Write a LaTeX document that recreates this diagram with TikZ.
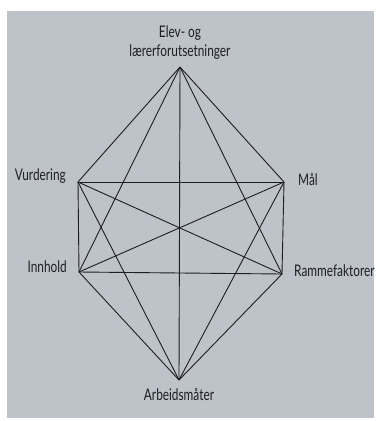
\documentclass[tikz,border=0pt]{standalone}
\usepackage{fontspec}
\setmainfont{Lato}
\definecolor{bg}{RGB}{189,195,201}
\definecolor{ink}{RGB}{30,30,32}
\newcommand\cond[1]{\scalebox{0.74}[1]{#1}}
\begin{document}
\begin{tikzpicture}[x=1pt,y=-1pt,
  lbl/.style={inner sep=0pt,text=ink,font=\fontsize{16}{19.5}\selectfont},
  edge/.style={draw=ink,line width=0.9pt}]
\useasboundingbox (0,0) rectangle (377,421);
\fill[white] (0,0) rectangle (377,421);
\fill[bg] (7,11) rectangle (374,418);
% vertices
\coordinate (T) at (180,67);
\coordinate (V) at (78,182);
\coordinate (M) at (284,182);
\coordinate (I) at (79,272);
\coordinate (R) at (282,274);
\coordinate (B) at (179,380);
% edges
\foreach \a/\b in {T/V,T/M,T/I,T/R,T/B,V/M,V/I,V/R,V/B,M/I,M/R,M/B,I/R,I/B,R/B}
  \draw[edge] (\a) -- (\b);
% labels
\node[lbl,align=center,anchor=base] (lt) at (180,56.5) {\cond{Elev- og}\\\cond{lærerforutsetninger}};
\node[lbl,anchor=base east] (lv) at (66,180) {\cond{Vurdering}};
\node[lbl,anchor=base west] (lm) at (298,185) {\cond{Mål}};
\node[lbl,anchor=base east] (li) at (67,272) {\cond{Innhold}};
\node[lbl,anchor=base west] (lr) at (294,276) {\cond{Rammefaktorer}};
\node[lbl,anchor=base] (lb) at (179,400) {\cond{Arbeidsmåter}};
\end{tikzpicture}
\end{document}
